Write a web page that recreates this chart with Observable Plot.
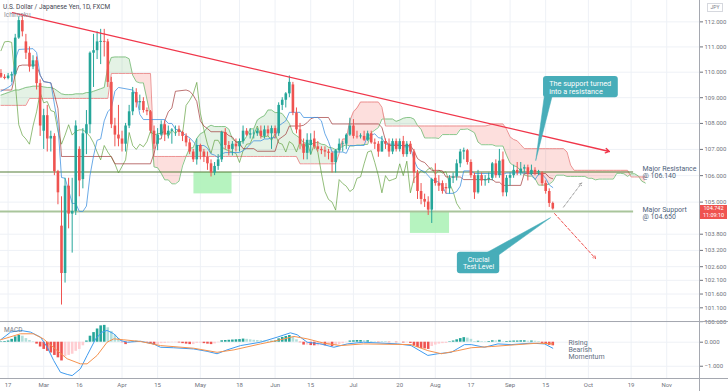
<!DOCTYPE html>
<html><head><meta charset="utf-8">
<script src="https://cdn.jsdelivr.net/npm/d3@7"></script>
<script src="https://cdn.jsdelivr.net/npm/@observablehq/plot@0.6"></script>
<style>
html,body{margin:0;padding:0;background:#fff;}
#wrap{position:relative;width:728px;height:391px;overflow:hidden;background:#fff;font-family:Roboto,sans-serif;}
#main,#macd{position:absolute;left:0;}
#main{top:0;} #macd{top:322px;}
.hl{position:absolute;left:0;width:728px;height:1px;background:#a5a8b0;}
.vl{position:absolute;top:0;left:699px;width:1px;height:391px;background:#a5a8b0;}
.title{position:absolute;left:3px;top:3px;font-size:6.5px;color:#434651;white-space:nowrap;}
.ind{position:absolute;left:4px;top:11px;font-size:6.5px;color:#8a8d96;white-space:nowrap;}
.macdl{position:absolute;left:4px;top:326px;font-size:6.5px;color:#787b86;}
.badge{position:absolute;left:700px;width:27px;height:7px;background:#ef5350;color:#fff;font-size:5.5px;line-height:7px;text-align:center;}
.cur{position:absolute;left:707px;top:3px;width:14px;height:7px;border:1px solid #d6d8de;color:#787b86;font-size:5px;line-height:7px;text-align:center;background:#fff;}
</style></head>
<body>
<div id="wrap">
  <div id="main"></div>
  <div id="macd"></div>
  <div class="hl" style="top:321px"></div>
  <div class="hl" style="top:378px"></div>
  <div class="vl"></div>
  <div class="title">U.S. Dollar / Japanese Yen, 1D, FXCM</div>
  <div class="ind">Ichimoku</div>
  <div class="macdl">MACD</div>
  <div class="cur">JPY</div>
  <div class="badge" id="pbadge" style="top:205px"></div>
  <div class="badge" style="top:212px">11:09:10</div>
</div>
<script>
// ---------------- DATA ----------------
// bar index 0 = 17 Feb 2020 (trading days only); first bar = 13 Feb 2020
const firstBar = -2;
const open = [
109.95,109.8,109.75,109.85,109.9,111.35,112.05,111.2,110.75,110.2,
110.45,109.55,107.7,108.3,107.4,107.5,106.15,104.1,102.35,105.6,
104.55,104.65,107.0,105.85,107.6,107.95,110.75,110.85,111.18,111.22,
111.2,109.6,107.9,107.55,107.4,107.2,107.9,108.45,109.2,108.8,
108.85,108.5,108.45,107.7,107.2,107.55,107.95,107.55,107.7,107.75,
107.75,107.65,107.5,107.25,106.9,106.6,107.15,106.9,106.7,106.45,
106.1,106.35,106.6,107.65,107.15,107.0,107.2,107.1,107.3,107.7,
107.55,107.6,107.6,107.7,107.5,107.75,107.6,107.8,107.6,108.7,
108.9,109.15,109.5,108.4,107.75,107.2,106.85,107.15,107.4,107.1,
107.0,106.95,106.9,106.85,106.5,106.95,107.2,107.2,107.55,107.9,
107.5,107.48,107.5,107.35,107.6,107.25,107.2,106.9,107.3,107.2,
106.9,107.3,107.0,107.3,106.8,107.2,106.9,106.1,105.4,105.1,
105.0,104.7,105.9,105.7,105.7,105.55,105.5,105.9,105.95,106.45,
106.9,106.95,106.5,106.0,105.35,106.0,105.8,105.85,105.9,106.45,
106.0,106.6,105.35,105.9,106.0,106.2,106.1,106.25,106.3,106.05,
106.2,106.1,106.1,105.7,105.4,104.95];
const high = [
110.1,109.9,109.95,110.0,111.5,112.2,112.25,111.5,111.0,110.65,
110.6,109.7,108.55,108.7,107.7,107.6,106.2,105.2,105.9,105.9,
105.9,108.1,107.1,107.8,108.5,110.8,111.5,111.6,111.7,111.7,
111.3,109.8,108.2,108.7,107.7,108.0,108.7,109.4,109.35,109.1,
109.0,108.6,108.5,107.9,107.8,108.1,108.1,107.9,107.8,107.9,
107.9,107.7,107.6,107.4,107.0,107.4,107.2,107.0,106.9,106.6,
106.5,106.8,107.7,107.8,107.3,107.3,107.4,107.4,107.9,107.8,
107.8,107.75,107.8,107.9,107.9,107.9,107.9,107.9,108.8,109.0,
109.2,109.85,109.6,108.6,108.0,107.4,107.6,107.6,107.7,107.3,
107.1,107.1,107.0,106.9,107.0,107.4,107.3,107.6,108.2,108.15,
107.7,107.6,107.7,107.7,107.7,107.4,107.3,107.5,107.4,107.4,
107.4,107.4,107.4,107.5,107.3,107.3,107.0,106.2,105.7,105.3,
105.2,105.9,106.45,106.0,105.8,105.7,106.0,106.1,106.6,107.0,
107.05,107.0,106.6,106.1,106.2,106.1,106.0,106.1,106.5,106.6,
107.0,106.9,106.0,106.1,106.4,106.5,106.5,106.4,106.4,106.4,
106.3,106.2,106.15,105.8,105.5,105.0];
const low = [
109.75,109.7,109.7,109.6,109.85,111.3,111.4,110.5,110.0,110.1,
109.3,107.5,107.0,106.9,106.9,106.0,104.9,101.2,102.0,104.0,
103.1,104.5,105.2,105.5,106.8,107.6,109.4,110.5,110.3,110.6,
109.4,107.8,107.1,107.1,106.9,106.9,107.8,108.3,108.6,108.5,
108.4,108.3,107.6,107.0,106.95,107.5,107.3,107.4,107.2,107.5,
107.5,107.3,107.1,106.8,106.5,106.4,106.6,106.5,106.2,105.95,
106.0,106.2,106.5,107.0,106.75,106.75,106.9,106.9,107.2,107.5,
107.4,107.4,107.5,107.4,107.4,107.5,107.0,107.4,107.5,108.5,
108.6,109.0,108.3,107.6,107.0,106.6,106.6,106.8,107.0,106.9,
106.8,106.7,106.6,106.1,106.1,106.9,106.9,107.0,107.5,107.4,
107.4,107.4,107.3,107.3,107.2,107.0,106.7,106.9,107.0,106.7,
106.8,106.9,106.9,106.7,106.7,106.8,105.7,105.1,104.9,104.8,
104.5,104.2,105.6,105.4,105.3,105.3,105.3,105.7,105.8,106.3,
106.6,106.4,105.9,105.1,105.3,105.6,105.6,105.7,105.8,105.9,
105.9,105.2,105.2,105.6,105.9,106.0,106.0,106.1,105.8,106.0,
106.0,106.0,105.6,105.3,104.8,104.7];
const close = [
109.8,109.75,109.85,109.9,111.35,112.05,111.6,110.75,110.2,110.45,
109.55,107.9,108.3,107.4,107.5,106.15,105.35,102.35,105.6,104.55,
104.65,107.9,105.8,107.6,107.95,110.75,110.85,111.2,111.22,111.18,
109.6,107.95,107.55,107.4,107.2,107.9,108.45,109.2,108.8,108.85,
108.5,108.45,107.7,107.2,107.55,107.95,107.55,107.7,107.75,107.75,
107.65,107.5,107.25,106.9,106.6,107.15,106.9,106.7,106.45,106.1,
106.35,106.6,107.65,107.15,107.0,107.2,107.1,107.3,107.7,107.55,
107.6,107.62,107.7,107.5,107.75,107.6,107.8,107.6,108.7,108.9,
109.15,109.6,108.4,107.75,107.2,106.85,107.35,107.35,107.1,107.0,
106.95,106.9,106.85,106.5,106.95,107.2,107.22,107.55,107.9,107.5,
107.48,107.52,107.35,107.6,107.25,107.2,106.9,107.3,107.2,106.9,
107.3,107.0,107.3,106.8,107.2,106.9,106.1,105.4,105.1,105.0,
104.7,105.85,105.7,105.6,105.4,105.5,105.9,105.95,106.45,106.9,
106.95,106.5,106.0,105.35,106.0,105.8,105.85,105.9,106.45,106.0,
106.55,105.35,105.9,106.0,106.2,106.1,106.25,106.3,106.05,106.2,
106.1,106.15,105.7,105.4,104.95,104.742];

// Ichimoku: conversion & base line vertices [bar, price]
const conversionLine = [[-2,109.25],[0,109.4],[1,109.5],[2,110.5],[3,110.9],[7,110.93],[8,110.78],[9,109.88],[10,109.63],[12,109.58],[13,108.75],[14,107.95],[15,105.93],[16,105.9],[17,105.45],[18,104.95],[19,104.95],[20,104.65],[21,104.65],[22,104.85],[23,106.0],[24,106.75],[25,107.35],[26,107.4],[27,108.1],[28,108.45],[29,108.6],[30,109.25],[31,109.4],[35,109.3],[36,109.1],[37,108.35],[38,108.15],[44,108.15],[45,108.0],[46,108.0],[47,107.78],[48,107.73],[50,107.53],[51,107.45],[52,107.3],[53,107.15],[55,107.15],[56,107.05],[57,106.83],[58,106.78],[59,106.68],[60,106.83],[61,106.88],[65,106.88],[66,106.95],[67,107.05],[68,107.2],[69,107.33],[71,107.33],[72,107.4],[73,107.4],[74,107.45],[75,107.45],[76,107.9],[77,108.0],[78,108.1],[79,108.43],[82,108.43],[83,108.23],[87,108.23],[88,108.1],[89,107.6],[90,107.3],[91,106.9],[94,106.9],[95,106.85],[96,107.15],[100,107.15],[101,107.55],[102,107.55],[103,107.6],[104,107.45],[105,107.43],[106,107.2],[110,107.2],[111,107.1],[113,107.1],[114,106.6],[115,106.3],[116,106.2],[117,106.15],[118,106.0],[119,105.85],[121,105.75],[122,105.6],[123,105.33],[125,105.33],[126,105.4],[127,105.6],[128,106.18],[130,106.18],[131,106.08],[136,106.08],[139,106.05],[140,106.1],[146,106.1],[147,106.05],[148,105.85],[149,106.05],[150,106.05],[151,105.9],[152,105.65],[153,105.55]];
const baseLine = [[-2,109.3],[1,109.3],[2,109.9],[3,110.25],[4,110.28],[8,110.28],[9,109.88],[10,109.63],[12,109.58],[13,109.13],[14,108.58],[15,106.73],[29,106.73],[30,106.45],[40,106.45],[41,106.85],[42,107.4],[43,107.4],[44,108.1],[45,108.45],[46,108.6],[47,109.25],[50,109.3],[51,109.25],[52,109.1],[53,108.85],[54,108.1],[55,107.9],[56,107.8],[57,107.68],[60,107.68],[61,107.65],[62,107.53],[63,107.48],[64,107.28],[65,107.23],[66,107.03],[69,107.03],[70,106.93],[75,106.93],[76,107.38],[77,107.48],[78,107.58],[79,107.9],[82,107.9],[83,107.93],[84,108.03],[85,108.18],[86,108.23],[90,108.23],[91,107.98],[104,107.98],[105,107.85],[106,107.35],[107,107.15],[113,107.15],[114,106.95],[115,106.65],[116,106.55],[117,106.5],[118,106.35],[119,106.2],[121,106.2],[122,106.18],[123,105.95],[127,105.95],[128,105.85],[136,105.85],[137,105.75],[138,105.75],[139,105.63],[144,105.63],[145,106.08],[151,106.08],[152,105.93],[153,105.88]];
// leading spans, one value per bar from bar -2 to bar 179
const firstSpanBar = -2;
const spanA = [
109.1,109.15,109.2,109.25,109.3,109.3,109.35,109.4,109.42,109.45,
109.45,109.45,109.42,109.4,109.4,109.35,109.25,109.15,109.12,109.12,
109.12,109.15,109.15,109.15,109.2,109.2,109.25,109.3,109.35,109.4,
110.2,110.58,110.6,110.6,110.6,110.6,110.53,109.88,109.63,109.58,
109.58,108.94,108.27,106.33,106.3,106.09,105.84,105.84,105.69,105.69,
105.79,106.37,106.74,107.04,107.07,107.42,107.6,107.67,107.85,107.93,
107.88,107.88,107.88,107.88,107.78,107.4,107.3,107.3,107.3,107.5,
107.79,107.79,108.13,108.23,108.3,108.52,108.52,108.42,108.42,108.38,
108.2,108.0,107.63,107.53,107.43,107.26,107.23,107.18,107.26,107.27,
107.2,107.18,107.08,107.06,106.99,107.04,107.12,107.18,107.13,107.13,
107.17,107.17,107.19,107.19,107.64,107.74,107.84,108.17,108.17,108.17,
108.17,108.08,108.13,108.2,108.23,108.23,108.17,107.92,107.77,107.44,
107.44,107.44,107.44,107.42,107.57,107.57,107.57,107.57,107.57,107.77,
107.77,107.79,107.72,107.64,107.28,107.18,107.18,107.18,107.18,107.13,
107.13,107.13,106.78,106.48,106.38,106.33,106.18,106.03,105.98,105.98,
105.89,105.64,105.64,105.64,105.68,105.78,106.02,106.02,106.02,105.97,
105.97,105.97,105.97,105.97,105.97,105.9,105.9,105.84,105.87,105.87,
105.87,105.87,105.87,106.09,106.09,106.07,105.97,106.07,106.07,105.99,
105.79,105.72];
const spanB = [
108.7,108.7,108.7,108.7,108.7,108.7,108.7,108.7,108.97,108.97,
108.97,108.97,108.97,108.97,108.97,108.97,108.97,108.97,108.97,108.97,
108.97,108.97,108.97,108.97,108.97,108.97,108.97,108.97,108.97,108.97,
108.97,109.95,109.95,109.95,109.95,109.95,109.95,109.95,109.95,109.95,
109.95,109.95,109.95,106.73,106.73,106.73,106.73,106.73,106.73,106.73,
106.73,106.73,106.73,106.73,106.73,106.73,106.73,106.73,106.73,106.73,
106.73,106.73,106.73,106.73,106.73,106.73,106.73,106.73,106.73,106.73,
106.73,106.73,106.73,106.73,106.73,106.73,106.73,106.73,106.73,106.73,
106.73,106.73,106.73,106.73,106.45,106.45,106.45,106.45,106.45,106.45,
106.45,106.45,106.45,106.45,106.45,106.85,107.4,107.4,108.1,108.45,
108.6,108.83,108.83,108.83,108.83,108.83,108.83,108.63,107.9,107.9,
107.9,107.9,107.9,107.9,107.9,107.9,107.9,107.9,107.9,107.9,
107.9,107.9,107.9,107.9,107.9,107.9,107.9,107.9,107.9,107.9,
107.9,107.9,107.9,107.9,107.9,107.9,107.9,107.93,107.98,107.98,
107.98,107.98,107.78,107.48,107.38,107.33,107.18,107.03,107.03,107.03,
107.03,107.03,107.03,107.03,107.03,107.03,107.03,107.03,107.03,106.9,
106.4,106.2,106.2,106.2,106.2,106.2,106.2,106.2,106.2,106.2,
106.2,106.2,106.2,106.2,106.2,106.2,106.2,105.95,105.95,105.95,
105.95,105.95];
const laggingShift = 26;

// MACD panel
const macdHist = [
0.02,0.03,0.05,0.12,0.22,0.28,0.25,0.15,0.07,0.02,
-0.08,-0.2,-0.3,-0.38,-0.45,-0.55,-0.65,-0.78,-0.6,-0.55,
-0.5,-0.38,-0.3,-0.15,0.05,0.25,0.4,0.55,0.68,0.7,
0.6,0.45,0.3,0.15,-0.02,-0.1,-0.05,0.02,0.04,0.03,
0.0,-0.04,-0.08,-0.12,-0.1,-0.06,-0.05,-0.03,-0.02,-0.02,
-0.03,-0.06,-0.08,-0.1,-0.1,-0.05,-0.04,-0.06,-0.08,-0.1,
-0.07,-0.02,0.06,0.07,0.08,0.09,0.1,0.11,0.13,0.12,
0.1,0.08,0.07,0.06,0.05,0.04,0.04,0.05,0.14,0.2,
0.24,0.28,0.22,0.1,-0.02,-0.12,-0.12,-0.14,-0.15,-0.15,
-0.14,-0.15,-0.14,-0.18,-0.14,-0.1,-0.06,-0.02,0.05,0.06,
0.07,0.07,0.06,0.06,0.03,0.02,-0.02,0.01,0.01,-0.02,
0.0,-0.02,0.0,-0.03,-0.02,-0.05,-0.15,-0.22,-0.26,-0.28,
-0.3,-0.18,-0.12,-0.08,-0.06,-0.05,0.02,0.05,0.1,0.15,
0.19,0.17,0.12,0.03,0.04,0.03,0.02,0.03,0.06,0.05,
0.08,0.02,0.03,0.04,0.05,0.05,0.06,0.06,0.04,0.05,
0.04,0.03,-0.05,-0.1,-0.13,-0.15];
const macdLine = [[-2.1,0.10],[0.7,0.42],[3.5,0.49],[6.3,0.42],[9.1,0.21],[11,-0.21],[12.8,-0.76],[14.7,-1.25],[16.6,-1.34],[18,-1.39],[20.3,-1.11],[22.2,-0.55],[24.6,0.14],[26.4,0.42],[27.8,0.49],[29.7,0.35],[31.6,0.07],[33.5,0.0],[37.2,0.04],[40.8,-0.07],[42.8,-0.21],[46.5,-0.23],[52.1,-0.28],[55.9,-0.38],[58.7,-0.48],[61.5,-0.32],[65.3,-0.14],[70.9,0.0],[75.6,0.21],[79.3,0.39],[81.2,0.31],[84,0.0],[87.8,-0.07],[91.5,-0.21],[95.3,-0.07],[99.8,0.0],[109.4,-0.07],[113.2,-0.14],[117.9,-0.55],[120.7,-0.48],[124.5,-0.42],[128.2,-0.10],[130.1,-0.10],[133.8,-0.21],[137.6,-0.07],[141.3,-0.10],[146.9,-0.04],[150.7,-0.07],[153,-0.25]];
const signalLine = [[-2.1,0.10],[3.5,0.35],[7.1,0.35],[9.9,0.14],[13.8,-0.35],[16.6,-0.69],[20.3,-0.90],[22.2,-0.90],[25,-0.55],[27.8,0.0],[29.7,0.14],[32.5,0.10],[37.2,0.03],[42.8,-0.14],[52.1,-0.25],[58.7,-0.42],[63.4,-0.32],[70.9,-0.07],[75.6,0.07],[80.3,0.24],[84,0.14],[88.7,-0.04],[93.4,-0.14],[99.8,-0.07],[113.2,-0.10],[117.9,-0.35],[121.7,-0.48],[126.3,-0.35],[130.1,-0.23],[135.7,-0.18],[142.2,-0.11],[148.8,-0.04],[153,-0.07]];

// axis ticks
const priceTicks = [112,111,110,109,108,107,106,105,103.8,103.2,102.6,102.1,101.6,101.1,100.6];
const macdTicks = [0,-1];
const tickBars = [0,10,20,32,42,54,65,75,85,97,110,120,130,141,151,163,175,185];
const tickLabels = ["17","Mar","16","Apr","15","May","18","Jun","15","Jul","20","Aug","17","Sep","15","Oct","19","Nov"];

// key levels and drawings (bar, price)
const levels = [{name:"Major Resistance", price:106.14}, {name:"Major Support", price:104.65}];
const levelSpan = [-2.2, 175.7];
const trendline = [{x1:1.2, y1:112.37, x2:168.9, y2:106.92}];
const zones = [{x1:52.2, x2:62.9, y1:105.31, y2:106.12}, {x1:113.0, x2:124.0, y1:103.83, y2:104.64}];
const scenarios = [{x1:156.0, y1:104.81, x2:161.1, y2:105.72, up:true}, {x1:153.5, y1:104.57, x2:165.0, y2:102.9, up:false}];
const callouts = [
  {text:"The support turned\ninto a resistance", x1:150.4, x2:171.4, y1:109.0, y2:109.83, tx:152.0, ty:109.41,
   wedge:[[150.6,109.05],[148.2,106.57],[152.8,109.05]]},
  {text:"Crucial\nTest Level", x1:126.2, x2:138.1, y1:102.34, y2:103.13, tx:132.15, ty:102.74,
   wedge:[[133.5,103.05],[152.4,104.42],[138.0,103.05]]}
];
const momentumNote = {text:"Rising\nBearish\nMomentum", x:157.4, y:-0.30};

// ---------------- CHART ----------------
const xDomain = [-2.135, 194.21];
const up = "#26a69a", down = "#ef5350", teal = "#47adb9", gridC = "#eef1f6";
const f3 = d3.format(".3f");
const bars = open.map((o, k) => ({i: firstBar + k, o, h: high[k], l: low[k], c: close[k]}));
const cloud = spanA.map((a, k) => ({i: firstSpanBar + k, a, b: spanB[k]}));
const lag = bars.filter(d => d.i - laggingShift >= firstBar).map(d => ({i: d.i - laggingShift, c: d.c}));
const hist = macdHist.map((v, k) => {
  const p = k > 0 ? macdHist[k - 1] : v;
  const col = v >= 0 ? (v >= p ? "#26a69a" : "#b2dfdb") : (v < p ? "#ef5350" : "#ffcdd2");
  return {i: firstBar + k, v, col};
});
const labelOf = new Map(tickBars.map((b, k) => [b, tickLabels[k]]));
const axisStyle = {fontFamily: "Roboto, sans-serif", fontSize: "6px", color: "#6f727c", background: "transparent", overflow: "visible"};

const main = Plot.plot({
  width: 728, height: 322, marginLeft: 0, marginRight: 29, marginTop: 0, marginBottom: 0,
  style: axisStyle,
  x: {domain: xDomain, axis: null},
  y: {type: "log", domain: [100.57, 112.86], axis: "right", ticks: priceTicks, tickFormat: f3, tickSize: 3, tickPadding: 2, label: null},
  marks: [
    Plot.ruleY(priceTicks, {stroke: gridC, strokeWidth: 1}),
    Plot.ruleX(tickBars, {stroke: gridC, strokeWidth: 1}),
    Plot.rect(zones, {x1: "x1", x2: "x2", y1: "y1", y2: "y2", fill: "#aef2b8", fillOpacity: 0.9}),
    Plot.areaY(cloud, {x: "i", y1: "b", y2: d => Math.max(d.a, d.b), fill: "#43a047", fillOpacity: 0.14, clip: true}),
    Plot.areaY(cloud, {x: "i", y1: "a", y2: d => Math.max(d.a, d.b), fill: "#f44336", fillOpacity: 0.17, clip: true}),
    Plot.line(cloud, {x: "i", y: "a", stroke: "#7fbf7f", strokeWidth: 0.9, clip: true}),
    Plot.line(cloud, {x: "i", y: "b", stroke: "#ea8a8a", strokeWidth: 0.9, clip: true}),
    Plot.ruleY(levels.slice(0, 1), {y: "price", x1: levelSpan[0], x2: levelSpan[1], stroke: "#557f38", strokeWidth: 1.1}),
    Plot.ruleY(levels.slice(1), {y: "price", x1: levelSpan[0], x2: levelSpan[1], stroke: "#a9c59b", strokeWidth: 2}),
    Plot.line(lag, {x: "i", y: "c", stroke: "#5e9e3a", strokeOpacity: 0.75, strokeWidth: 0.9, clip: true}),
    Plot.line(baseLine, {x: d => d[0], y: d => d[1], stroke: "#9c2f2f", strokeOpacity: 0.75, strokeWidth: 0.9, clip: true}),
    Plot.line(conversionLine, {x: d => d[0], y: d => d[1], stroke: "#3d8fe0", strokeOpacity: 0.85, strokeWidth: 0.9, clip: true}),
    Plot.ruleX(bars, {x: "i", y1: "l", y2: "h", stroke: d => d.c >= d.o ? up : down, strokeWidth: 1, clip: true}),
    Plot.ruleX(bars, {x: "i", y1: "o", y2: "c", stroke: d => d.c >= d.o ? up : down, strokeWidth: 2.6, clip: true}),
    Plot.arrow(trendline, {x1: "x1", y1: "y1", x2: "x2", y2: "y2", stroke: "#f0364a", strokeWidth: 1.3, headLength: 5}),
    Plot.arrow(scenarios, {x1: "x1", y1: "y1", x2: "x2", y2: "y2", stroke: d => d.up ? "#9e9e9e" : "#ef5350", strokeWidth: 1, strokeDasharray: "3,2", headLength: 4}),
    ...callouts.map(c => Plot.line(c.wedge, {x: d => d[0], y: d => d[1], fill: teal, stroke: teal, strokeWidth: 0.5})),
    Plot.rect(callouts, {x1: "x1", x2: "x2", y1: "y1", y2: "y2", fill: teal, rx: 3}),
    Plot.text(callouts.slice(0, 1), {x: "tx", y: "ty", text: "text", fill: "white", fontSize: 7.3, textAnchor: "start", lineHeight: 1.06}),
    Plot.text(callouts.slice(1), {x: "tx", y: "ty", text: "text", fill: "white", fontSize: 7, textAnchor: "middle", lineHeight: 1.08}),
    Plot.text(levels.slice(0, 1), {x: 178.2, y: "price", text: d => d.name + "\n@ " + f3(d.price), fill: "#4e627a", fontSize: 7, textAnchor: "start", lineHeight: 1}),
    Plot.text(levels.slice(1), {x: 178.2, y: "price", text: d => d.name + "\n@ " + f3(d.price), fill: "#4e627a", fontSize: 7, textAnchor: "start", lineHeight: 1, dy: 1.7})
  ]
});
document.getElementById("main").appendChild(main);

const macd = Plot.plot({
  width: 728, height: 69, marginLeft: 0, marginRight: 29, marginTop: 0, marginBottom: 13,
  style: axisStyle,
  x: {domain: xDomain, ticks: tickBars, tickFormat: b => labelOf.get(b), tickSize: 0, tickPadding: 4, label: null},
  y: {domain: [-1.51, 0.82], axis: "right", ticks: macdTicks, tickFormat: f3, tickSize: 3, tickPadding: 2, label: null},
  marks: [
    Plot.ruleY(macdTicks, {stroke: gridC}),
    Plot.ruleX(tickBars, {stroke: gridC}),
    Plot.ruleX(hist, {x: "i", y1: 0, y2: "v", stroke: "col", strokeWidth: 2.6, clip: true}),
    Plot.line(macdLine, {x: d => d[0], y: d => d[1], stroke: "#3f9bef", strokeWidth: 1, clip: true}),
    Plot.line(signalLine, {x: d => d[0], y: d => d[1], stroke: "#f5924e", strokeWidth: 1, clip: true}),
    Plot.text([momentumNote], {x: "x", y: "y", text: "text", fill: "#5f6f82", fontSize: 7, textAnchor: "start", lineHeight: 1})
  ]
});
document.getElementById("macd").appendChild(macd);
document.getElementById("pbadge").textContent = f3(close[close.length - 1]);
</script>
</body></html>
